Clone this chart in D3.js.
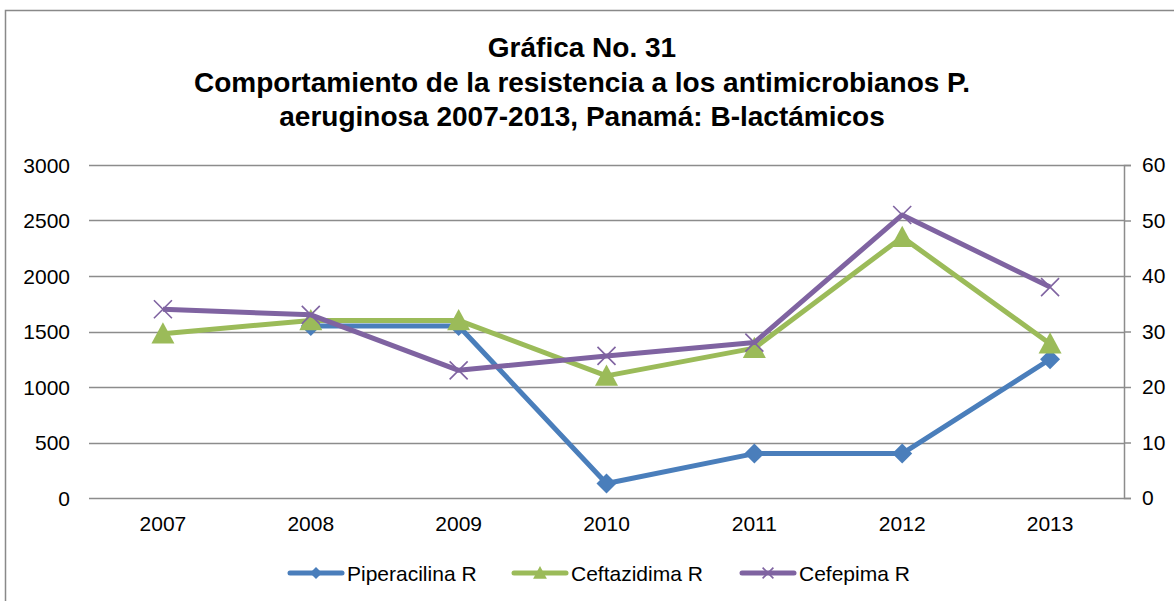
<!DOCTYPE html>
<html>
<head>
<meta charset="utf-8">
<script src="https://cdn.jsdelivr.net/npm/d3@7"></script>
<style>
  body { margin: 0; background: #fff; }
  text { font-family: "Liberation Sans", Arial, sans-serif; }
</style>
</head>
<body>
<div id="chart"></div>
<script>
// data
var years = ["2007", "2008", "2009", "2010", "2011", "2012", "2013"];
var piperacilina = [null, 1550, 1550, 130, 400, 400, 1250];
var ceftazidima = [1480, 1600, 1600, 1100, 1350, 2350, 1390];
var cefepima = [1700, 1650, 1150, 1280, 1400, 2550, 1900];
var leftTicks = [0, 500, 1000, 1500, 2000, 2500, 3000];
var rightTicks = [0, 10, 20, 30, 40, 50, 60];
var seriesNames = ["Piperacilina R", "Ceftazidima R", "Cefepima R"];
var titleLines = ["Gráfica No. 31",
    "Comportamiento de la resistencia a los antimicrobianos P.",
    "aeruginosa 2007-2013, Panamá: B-lactámicos"];

var width = 1174, height = 601;
var margin = { top: 165, right: 50, bottom: 103, left: 89 },
    plotW = width - margin.left - margin.right,
    plotH = height - margin.top - margin.bottom;

var svg = d3.select("#chart")
    .append("svg")
    .attr("width", width)
    .attr("height", height);

// outer chart border
svg.append("rect")
    .attr("x", 5.5).attr("y", 10.5)
    .attr("width", 1200).attr("height", 700)
    .attr("fill", "none")
    .attr("stroke", "#898989")
    .attr("stroke-width", 1.5);

// title
svg.append("g")
    .selectAll("text")
    .data(titleLines)
    .enter().append("text")
    .attr("x", 582)
    .attr("y", function (d, i) { return 57 + i * 34.5; })
    .attr("text-anchor", "middle")
    .attr("font-size", 28)
    .attr("font-weight", "bold")
    .attr("fill", "#000")
    .text(function (d) { return d; });

var g = svg.append("g")
    .attr("transform", "translate(" + margin.left + "," + margin.top + ")");

var x = d3.scaleBand().domain(years).range([0, plotW]);
var y = d3.scaleLinear().domain([0, 3000]).range([plotH, 0]);
var y2 = d3.scaleLinear().domain([0, 60]).range([plotH, 0]);

// gridlines
g.append("g")
    .selectAll("line")
    .data(leftTicks)
    .enter().append("line")
    .attr("x1", 0).attr("x2", plotW)
    .attr("y1", function (d) { return Math.round(y(d)) + 0.5; })
    .attr("y2", function (d) { return Math.round(y(d)) + 0.5; })
    .attr("stroke", "#8c8c8c")
    .attr("stroke-width", 1.5);

// left axis labels
g.append("g")
    .selectAll("text")
    .data(leftTicks)
    .enter().append("text")
    .attr("x", -19)
    .attr("y", function (d) { return y(d) + 7.5; })
    .attr("text-anchor", "end")
    .attr("font-size", 21)
    .text(function (d) { return d; });

// right axis
var rightAxis = d3.axisRight(y2).tickValues(rightTicks).tickSize(7).tickPadding(11);
var ra = g.append("g")
    .attr("transform", "translate(" + plotW + ",0)")
    .call(rightAxis);
ra.select(".domain").attr("stroke", "#8c8c8c").attr("stroke-width", 1.5);
ra.selectAll(".tick line").attr("stroke", "#8c8c8c").attr("stroke-width", 1.5);
ra.selectAll(".tick text")
    .attr("font-size", 21)
    .attr("font-family", "Liberation Sans, Arial, sans-serif")
    .attr("fill", "#000");

// x labels
g.append("g")
    .selectAll("text")
    .data(years)
    .enter().append("text")
    .attr("x", function (d) { return x(d) + x.bandwidth() / 2; })
    .attr("y", plotH + 33)
    .attr("text-anchor", "middle")
    .attr("font-size", 21)
    .text(function (d) { return d; });

var colors = ["#4a7ebb", "#9bbb59", "#7f63a1"];
var allSeries = [piperacilina, ceftazidima, cefepima];

var line = d3.line()
    .defined(function (d) { return d != null; })
    .x(function (d, i) { return x(years[i]) + x.bandwidth() / 2; })
    .y(function (d) { return y(d); });

function drawMarker(sel, k, size) {
    if (k === 0) {
        sel.append("path")
            .attr("d", "M0,-" + size + "L" + size + ",0L0," + size + "L-" + size + ",0Z")
            .attr("fill", colors[k]);
    } else if (k === 1) {
        var s = size * 1.15;
        sel.append("path")
            .attr("d", "M0,-" + s + "L" + s + "," + (s * 0.85) + "L-" + s + "," + (s * 0.85) + "Z")
            .attr("fill", colors[k]);
    } else {
        var c = size * 0.9;
        sel.append("path")
            .attr("d", "M-" + c + ",-" + c + "L" + c + "," + c + "M" + c + ",-" + c + "L-" + c + "," + c)
            .attr("stroke", colors[k])
            .attr("stroke-width", 1.6)
            .attr("fill", "none");
    }
}

allSeries.forEach(function (vals, k) {
    var sg = g.append("g");
    sg.append("path")
        .datum(vals)
        .attr("d", line)
        .attr("fill", "none")
        .attr("stroke", colors[k])
        .attr("stroke-width", 5)
        .attr("stroke-linejoin", "round");
    vals.forEach(function (v, i) {
        if (v == null) return;
        var m = sg.append("g")
            .attr("transform", "translate(" + (x(years[i]) + x.bandwidth() / 2) + "," + y(v) + ")");
        drawMarker(m, k, 10);
    });
});

// legend
var legendX = [288, 512, 740];
var legend = svg.append("g");
seriesNames.forEach(function (name, k) {
    var lg = legend.append("g")
        .attr("transform", "translate(" + legendX[k] + ",573)");
    lg.append("line")
        .attr("x1", 2).attr("x2", 54)
        .attr("stroke", colors[k])
        .attr("stroke-width", 5)
        .attr("stroke-linecap", "round");
    var m = lg.append("g").attr("transform", "translate(28,0)");
    drawMarker(m, k, 6);
    lg.append("text")
        .attr("x", 59)
        .attr("y", 7.5)
        .attr("font-size", 21)
        .text(name);
});
</script>
</body>
</html>
